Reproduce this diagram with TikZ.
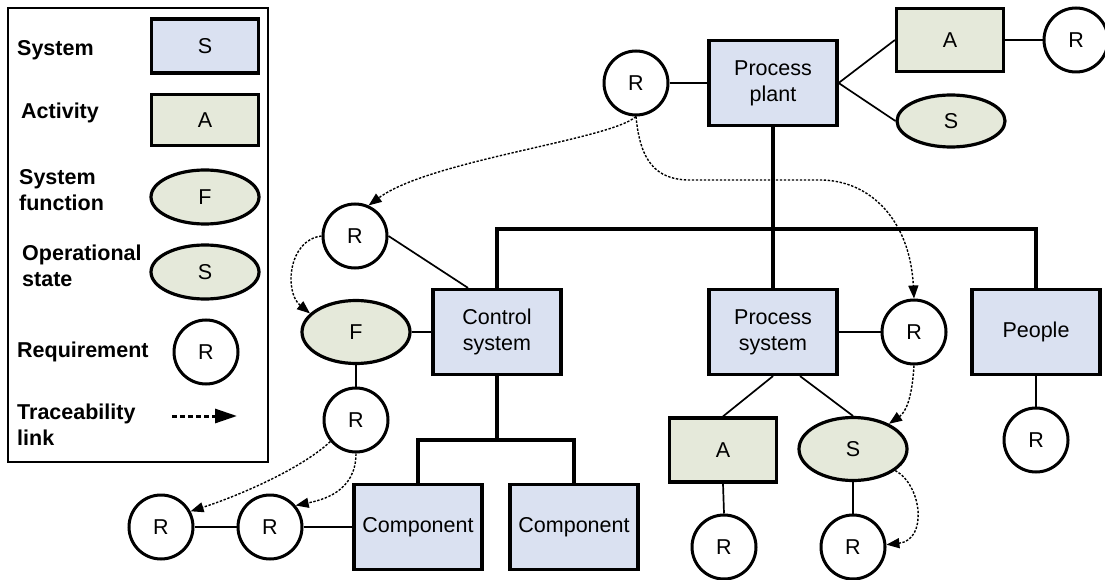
\documentclass[tikz,border=0pt]{standalone}
\usepackage{fontspec}
\setmainfont{Liberation Sans}
\usetikzlibrary{shapes.geometric,arrows.meta,calc}

\definecolor{sysblue}{RGB}{218,225,241}
\definecolor{actgreen}{RGB}{229,233,218}

\tikzset{
  lbl/.style={font=\fontsize{21.5}{26}\selectfont, align=center},
  sysbox/.style={lbl, draw, line width=3.2pt, fill=sysblue, minimum width=128pt, minimum height=85pt, inner sep=0pt},
  actbox/.style={lbl, draw, line width=3.2pt, fill=actgreen, minimum width=107pt, minimum height=63pt, inner sep=0pt},
  funcell/.style={lbl, ellipse, draw, line width=3.2pt, fill=actgreen, minimum width=108pt, minimum height=63pt, inner sep=0pt},
  reqcirc/.style={lbl, circle, draw, line width=3pt, fill=white, minimum size=64pt, inner sep=0pt},
  legtxt/.style={font=\bfseries\fontsize{21.5}{26}\selectfont, align=left, anchor=west, inner sep=0pt},
  link/.style={line width=1.7pt},
  bus/.style={line width=3.5pt},
  trace/.style={line width=1.4pt, dash pattern=on 2.4pt off 1.6pt,
    -{Triangle[length=13pt,width=10pt]}},
}

\begin{document}
\begin{tikzpicture}[x=1pt,y=-1pt]
\useasboundingbox (0,0) rectangle (1105,580);

% ---------- legend ----------
\draw[line width=1.5pt] (8,8) rectangle (268,462);
\node[legtxt] (lgSys) at (17,50) {System};
\node[sysbox, minimum width=107pt, minimum height=54pt] (lgS) at (205,46) {S};
\node[legtxt] (lgAct) at (21,113) {Activity};
\node[actbox, minimum height=51pt] (lgA) at (205,120) {A};
\node[legtxt] (lgFun) at (19,190) {System\\function};
\node[funcell, minimum height=54pt] (lgF) at (205,197) {F};
\node[legtxt] (lgOps) at (22,266) {Operational\\state};
\node[funcell, minimum height=54pt] (lgO) at (205,272) {S};
\node[legtxt] (lgReq) at (17,352) {Requirement};
\node[reqcirc] (lgR) at (206,352) {R};
\node[legtxt] (lgTr) at (17,425) {Traceability\\link};
\coordinate (lgT1) at (172,416);
\coordinate (lgT2) at (237,416);
\draw[line width=3pt, dash pattern=on 5pt off 3pt, -{Triangle[length=22pt,width=14pt]}] (lgT1) -- (lgT2);

% ---------- top level ----------
\node[sysbox] (pp) at (773,83) {Process\\plant};
\node[reqcirc] (rTop) at (636,83) {R};
\node[actbox] (aTop) at (950,40) {A};
\node[reqcirc] (rFar) at (1076,40) {R};
\node[funcell, minimum height=52pt] (sTop) at (951,121) {S};

\draw[link] (rTop.east) -- (pp.west);
\draw[link] (pp.east) -- (aTop.west);
\draw[link] (pp.east) -- (sTop.west);
\draw[link] (aTop.east) -- (rFar.west);

% ---------- second level ----------
\node[sysbox] (cs) at (497,332) {Control\\system};
\node[sysbox] (ps) at (773,332) {Process\\system};
\node[sysbox] (people) at (1036,332) {People};

\coordinate (busY) at (0,229);
\draw[bus] (pp.south) -- (ps.north);
\draw[bus] (cs.north) -- (cs.north |- busY) -| (people.north);

% control system branch
\node[reqcirc] (rCS) at (355,236) {R};
\node[funcell] (fCS) at (356,332) {F};
\node[reqcirc] (rF) at (356,420) {R};
\draw[link] (rCS.east) -- ([xshift=-29pt]cs.north);
\draw[link] (fCS.east) -- (cs.west);
\draw[link] (fCS.south) -- (rF.north);

% components
\node[sysbox] (comp1) at (418,527) {Component};
\node[sysbox] (comp2) at (574,527) {Component};
\node[reqcirc] (r1) at (161,527) {R};
\node[reqcirc] (r2) at (270,527) {R};
\coordinate (subY) at (0,440);
\draw[bus] (cs.south) -- (cs.south |- subY);
\draw[bus] (comp1.north) |- (comp2.north |- subY) -- (comp2.north);
\draw[link] (r1.east) -- (r2.west);
\draw[link] (r2.east) -- (comp1.west);

% process system branch
\node[reqcirc] (rPS) at (914,332) {R};
\node[actbox, minimum height=64pt] (aBot) at (723,450) {A};
\node[funcell] (sBot) at (853,449) {S};
\node[reqcirc] (rA) at (724,547) {R};
\node[reqcirc] (rS) at (853,547) {R};
\draw[link] (ps.east) -- (rPS.west);
\draw[link] (ps.south) -- (aBot.north);
\draw[link] ([xshift=27pt]ps.south) -- (sBot.north);
\draw[link] (aBot.south) -- (rA.north);
\draw[link] (sBot.south) -- (rS.north);

% people branch
\node[reqcirc] (rP) at (1036,440) {R};
\draw[link] (people.south) -- (rP.north);

% ---------- traceability links ----------
\draw[trace] (rTop.south) .. controls (610,140) and (430,160) .. (rCS.66);
\draw[trace] (rTop.south) .. controls (640,160) and (655,180) .. (690,180) -- (820,180)
  .. controls (870,180) and (910,220) .. (rPS.north);
\draw[trace] (rCS.west) .. controls (288,240) and (284,292) .. (fCS.158);
\draw[trace] (rF.220) .. controls (300,470) and (235,497) .. (r1.28);
\draw[trace] (rF.south) .. controls (356,492) and (322,500) .. (r2.40);
\draw[trace] (rPS.south) .. controls (912,398) and (906,412) .. (sBot.35);
\draw[trace] (sBot.-27) .. controls (922,485) and (928,540) .. (rS.4);
\end{tikzpicture}
\end{document}
